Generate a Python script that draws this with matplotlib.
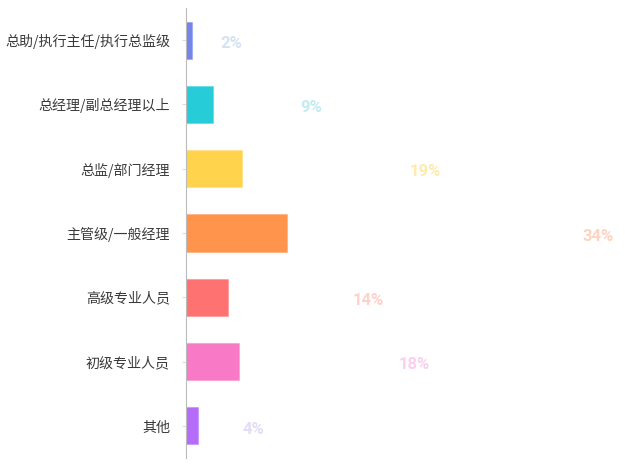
import matplotlib
matplotlib.use("Agg")
from matplotlib import pyplot as plt

categories = ["总助/执行主任/执行总监级", "总经理/副总经理以上", "总监/部门经理",
              "主管级/一般经理", "高级专业人员", "初级专业人员", "其他"]
values = [2, 9, 19, 34, 14, 18, 4]
bar_colors = ["#7585ea", "#26cdd9", "#ffd34c", "#ff944d", "#ff7272", "#f879c6", "#b56cf9"]
label_colors = ["#d4e2f4", "#c3ebf2", "#ffeaae", "#ffd3bd", "#ffd0cc", "#fad0ee", "#e4dcf6"]

plt.rcParams['font.family'] = ['Noto Sans CJK SC', 'DejaVu Sans']

fig = plt.figure(figsize=(6.25, 4.66), dpi=100)
# axes placed in pixel terms: left 186, right 620, top 9, bottom 459
ax = fig.add_axes([186 / 625, 8 / 466, 434 / 625, 450 / 466])

y = range(len(categories))
ax.barh(y, values, height=0.58, color=bar_colors,
        edgecolor=[c + "55" for c in bar_colors], linewidth=0.8)

for i, v in enumerate(values):
    ax.text(v * 3.86 + 7.4, i + 0.05, f"{v}%", color=label_colors[i],
            fontsize=12, fontweight="bold", family=["Roboto", "DejaVu Sans"],
            ha="center", va="center")

ax.set_xlim(0, 434 / 2.97)
ax.set_ylim(len(categories) - 0.5, -0.5)
ax.set_yticks(list(y))
ax.set_yticklabels(categories, fontsize=10.1, color="#3a3a3a")
ax.tick_params(axis="y", length=3, width=0.8, color="#dddddd", pad=8.6)
ax.set_xticks([])

for side in ["top", "right", "bottom"]:
    ax.spines[side].set_visible(False)
ax.spines["left"].set_color("#bbbbbb")
ax.spines["left"].set_linewidth(0.8)

fig.savefig("out.png", dpi=100)
